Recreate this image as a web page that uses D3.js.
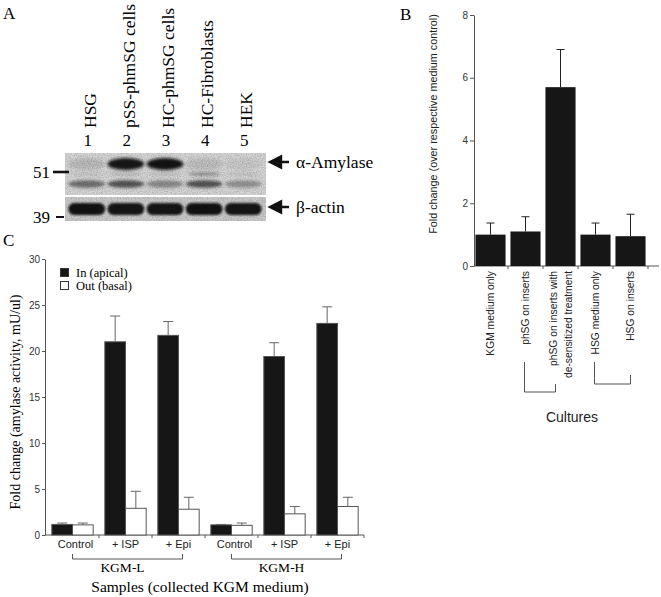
<!DOCTYPE html>
<html>
<head>
<meta charset="UTF-8">
<title>Amylase figure</title>
<script src="https://d3js.org/d3.v7.min.js"></script>
<style>
  body { margin: 0; background: #fff; }
  .serif { font-family: "Liberation Serif", "Times New Roman", serif; }
  .sans { font-family: "Liberation Sans", Arial, sans-serif; }
</style>
</head>
<body>
<div id="fig"></div>
<script>
// ---- panel A : western blot ----
const lanes = ["HSG", "pSS-phmSG cells", "HC-phmSG cells", "HC-Fibroblasts", "HEK"];
const laneNums = ["1", "2", "3", "4", "5"];
const amylaseBand = [0.12, 0.95, 0.97, 0.1, 0.05];   // band intensity, 0..1
const minorBand = [0.08, 0.12, 0.1, 0.35, 0.08];
const lowerBand = [0.55, 0.7, 0.4, 0.7, 0.35];
const actinBand = [0.97, 0.95, 0.95, 0.97, 0.95];
const markers = ["51", "39"];

// ---- panel B ----
const cultures = [["KGM medium only"], ["phSG on inserts"],
                  ["phSG on inserts with", "de-sensitized treatment"],
                  ["HSG medium only"], ["HSG on inserts"]];
const foldB = [1.0, 1.1, 5.7, 1.0, 0.95];
const errB = [0.37, 0.47, 1.2, 0.37, 0.7];
const ticksB = [0, 2, 4, 6, 8];

// ---- panel C ----
const samples = ["Control", "+ ISP", "+ Epi", "Control", "+ ISP", "+ Epi"];
const media = ["KGM-L", "KGM-H"];
const inApical = [1.15, 21.0, 21.7, 1.1, 19.4, 23.0];
const inErr = [0.15, 2.8, 1.5, 0.05, 1.5, 1.8];
const outBasal = [1.1, 2.9, 2.8, 1.05, 2.3, 3.1];
const outErr = [0.2, 1.85, 1.3, 0.25, 0.8, 1.0];
const ticksC = [0, 5, 10, 15, 20, 25, 30];

const W = 661, H = 597;
const svg = d3.select("#fig").append("svg")
    .attr("width", W).attr("height", H)
    .style("background", "#fff");

const defs = svg.append("defs");
defs.append("filter").attr("id", "blur").attr("x", "-30%").attr("y", "-80%")
    .attr("width", "160%").attr("height", "260%")
  .append("feGaussianBlur").attr("stdDeviation", 1.8);
defs.append("filter").attr("id", "blurS").attr("x", "-20%").attr("y", "-50%")
    .attr("width", "140%").attr("height", "200%")
  .append("feGaussianBlur").attr("stdDeviation", 1);
const noise = defs.append("filter").attr("id", "noise");
noise.append("feTurbulence").attr("type", "fractalNoise")
    .attr("baseFrequency", 0.8).attr("numOctaves", 2).attr("seed", 3);
noise.append("feColorMatrix").attr("type", "matrix")
    .attr("values", "0 0 0 0 0  0 0 0 0 0  0 0 0 0 0  0 0 0 0.35 -0.12");

// panel letters
svg.append("text").attr("class", "serif").attr("x", 3).attr("y", 19)
    .attr("font-size", 17).text("A");
svg.append("text").attr("class", "serif").attr("x", 400).attr("y", 20)
    .attr("font-size", 17).text("B");
svg.append("text").attr("class", "serif").attr("x", 3).attr("y", 246)
    .attr("font-size", 17).text("C");

// =================== A ===================
const blot = { x0: 65, x1: 266, top: 153, mid: 195, lowTop: 197, bottom: 221 };
const xLane = d3.scaleBand().domain(lanes).range([66, 264]).padding(0.06);
const gA = svg.append("g");

defs.append("clipPath").attr("id", "clipUp").append("rect")
    .attr("x", blot.x0).attr("y", blot.top)
    .attr("width", blot.x1 - blot.x0).attr("height", blot.mid - blot.top);
defs.append("clipPath").attr("id", "clipLow").append("rect")
    .attr("x", blot.x0).attr("y", blot.lowTop)
    .attr("width", blot.x1 - blot.x0).attr("height", blot.bottom - blot.lowTop);

gA.append("rect").attr("x", blot.x0).attr("y", blot.top)
    .attr("width", blot.x1 - blot.x0).attr("height", blot.mid - blot.top)
    .attr("fill", "#d6d6d6");
gA.append("rect").attr("x", blot.x0).attr("y", blot.lowTop)
    .attr("width", blot.x1 - blot.x0).attr("height", blot.bottom - blot.lowTop)
    .attr("fill", "#cbcbcb");

const up = gA.append("g").attr("clip-path", "url(#clipUp)");
const low = gA.append("g").attr("clip-path", "url(#clipLow)");

up.selectAll(".amy").data(lanes).join("ellipse")
    .attr("cx", d => xLane(d) + xLane.bandwidth() / 2)
    .attr("cy", 164).attr("rx", xLane.bandwidth() / 2).attr("ry", 6)
    .attr("fill", "#0e0e0e").attr("opacity", (d, i) => amylaseBand[i])
    .attr("filter", "url(#blur)");
up.selectAll(".minor").data(lanes).join("ellipse")
    .attr("cx", d => xLane(d) + xLane.bandwidth() / 2)
    .attr("cy", 174).attr("rx", xLane.bandwidth() / 2.3).attr("ry", 2)
    .attr("fill", "#222").attr("opacity", (d, i) => minorBand[i])
    .attr("filter", "url(#blur)");
up.selectAll(".lowb").data(lanes).join("ellipse")
    .attr("cx", d => xLane(d) + xLane.bandwidth() / 2)
    .attr("cy", 184).attr("rx", xLane.bandwidth() / 2).attr("ry", 3.8)
    .attr("fill", "#1a1a1a").attr("opacity", (d, i) => lowerBand[i])
    .attr("filter", "url(#blur)");
up.append("rect").attr("x", blot.x0).attr("y", blot.top)
    .attr("width", blot.x1 - blot.x0).attr("height", blot.mid - blot.top)
    .attr("filter", "url(#noise)");

low.selectAll(".actin").data(lanes).join("rect")
    .attr("x", d => xLane(d)).attr("y", 203)
    .attr("width", xLane.bandwidth()).attr("height", 12).attr("rx", 6)
    .attr("fill", "#080808").attr("opacity", (d, i) => actinBand[i])
    .attr("filter", "url(#blurS)");
low.append("rect").attr("x", blot.x0).attr("y", blot.lowTop)
    .attr("width", blot.x1 - blot.x0).attr("height", blot.bottom - blot.lowTop)
    .attr("filter", "url(#noise)");

// lane labels
gA.selectAll(".laneLab").data(lanes).join("text")
    .attr("class", "serif").attr("font-size", 17.5)
    .attr("transform", d => `translate(${xLane(d) + xLane.bandwidth() / 2 + 3},128) rotate(-90)`)
    .attr("dy", "0.35em").text(d => d);
gA.selectAll(".laneNum").data(laneNums).join("text")
    .attr("class", "serif").attr("font-size", 17).attr("text-anchor", "middle")
    .attr("x", (d, i) => xLane(lanes[i]) + xLane.bandwidth() / 2 + 1)
    .attr("y", 146).text(d => d);

// size markers
const markerY = [172, 217];
gA.selectAll(".mk").data(markers).join("text")
    .attr("class", "serif").attr("font-size", 17).attr("text-anchor", "end")
    .attr("x", 50).attr("y", (d, i) => markerY[i] + 6).text(d => d);
gA.selectAll(".mkl").data(markers).join("line")
    .attr("x1", (d, i) => i ? 56 : 53).attr("x2", (d, i) => i ? 64 : 69)
    .attr("y1", (d, i) => markerY[i]).attr("y2", (d, i) => markerY[i])
    .attr("stroke", "#111").attr("stroke-width", (d, i) => i ? 2 : 2.6);

// right labels
const bandLabels = [{ t: "α-Amylase", y: 162 }, { t: "β-actin", y: 207 }];
gA.selectAll(".arr").data(bandLabels).join("path")
    .attr("d", d => `M270,${d.y} L281,${d.y - 5.5} L281,${d.y + 5.5} Z M280,${d.y} L289,${d.y}`)
    .attr("fill", "#111").attr("stroke", "#111").attr("stroke-width", 2.4);
gA.selectAll(".bl").data(bandLabels).join("text")
    .attr("class", "serif").attr("font-size", 17.5)
    .attr("x", 296).attr("y", d => d.y + 6).text(d => d.t);

// =================== B ===================
const gB = svg.append("g");
const yB = d3.scaleLinear().domain([0, 8]).range([266, 15]);
const xB = d3.scaleBand().domain(d3.range(cultures.length))
    .range([473, 648]).paddingInner(0.14).paddingOuter(0.07);
const axB = gB.append("g").attr("transform", "translate(474,0)")
    .call(d3.axisLeft(yB).tickValues(ticksB).tickSize(4).tickSizeOuter(0).tickPadding(2));
axB.select(".domain").attr("stroke", "#555");
axB.selectAll(".tick line").attr("stroke", "#555");
axB.selectAll(".tick text").attr("class", "sans").attr("font-size", 10).attr("fill", "#333");

gB.append("line").attr("x1", 474).attr("x2", 659).attr("y1", 266).attr("y2", 266)
    .attr("stroke", "#555");
gB.selectAll(".xt").data(d3.range(1, cultures.length + 1)).join("line")
    .attr("x1", d => xB(d - 1) + xB.bandwidth() + xB.step() * 0.07)
    .attr("x2", d => xB(d - 1) + xB.bandwidth() + xB.step() * 0.07)
    .attr("y1", 266).attr("y2", 269).attr("stroke", "#555");

gB.selectAll(".barB").data(foldB).join("rect")
    .attr("x", (d, i) => xB(i)).attr("width", xB.bandwidth())
    .attr("y", d => yB(d)).attr("height", d => yB(0) - yB(d))
    .attr("fill", "#161616");
gB.selectAll(".errB").data(foldB).join("path")
    .attr("d", (d, i) => {
      const cx = xB(i) + xB.bandwidth() / 2, yt = yB(d + errB[i]);
      return `M${cx},${yB(d)} V${yt} M${cx - 4},${yt} H${cx + 4}`;
    })
    .attr("fill", "none").attr("stroke", "#222").attr("stroke-width", 1);

const labB = gB.selectAll(".labB").data(cultures).join("text")
    .attr("class", "sans").attr("font-size", 10.3).attr("text-anchor", "end")
    .attr("fill", "#222")
    .attr("transform", (d, i) => `translate(${xB(i) + xB.bandwidth() / 2},271) rotate(-90)`);
labB.selectAll("tspan").data(d => d.map((t, j) => ({ t, j, n: d.length }))).join("tspan")
    .attr("x", 0)
    .attr("y", d => d.n > 1 ? (d.j - 0.5) * 15 : 0)
    .attr("dy", "0.35em").text(d => d.t);

// brackets under B labels
const cB = i => xB(i) + xB.bandwidth() / 2;
const bracketsB = [[1, 2, 362, 392, 384], [3, 4, 362, 384, 375]];
gB.selectAll(".brB").data(bracketsB).join("path")
    .attr("d", d => {
      const x1 = cB(d[0]) - 1, x2 = d[1] === 2 ? cB(d[1]) - 5 : cB(d[1]);
      return `M${x1},${d[2]} V${d[3]} H${x2} V${d[4]}`;
    })
    .attr("fill", "none").attr("stroke", "#555");

gB.append("text").attr("class", "sans").attr("font-size", 14).attr("fill", "#222")
    .attr("text-anchor", "middle").attr("x", 572).attr("y", 422).text("Cultures");
gB.append("text").attr("class", "sans").attr("font-size", 10.8).attr("fill", "#222")
    .attr("text-anchor", "middle")
    .attr("transform", "translate(437,124) rotate(-90)")
    .text("Fold change (over respective medium control)");

// =================== C ===================
const gC = svg.append("g");
const yC = d3.scaleLinear().domain([0, 30]).range([535, 259]);
const xC = d3.scaleBand().domain(d3.range(samples.length))
    .range([46, 364]).paddingInner(0.22).paddingOuter(0.11);
const xSub = d3.scaleBand().domain(["in", "out"]).range([0, xC.bandwidth()]);

const axC = gC.append("g").attr("transform", "translate(45,0)")
    .call(d3.axisLeft(yC).tickValues(ticksC).tickSize(3).tickSizeOuter(0).tickPadding(2));
axC.select(".domain").attr("stroke", "#555");
axC.selectAll(".tick line").attr("stroke", "#555");
axC.selectAll(".tick text").attr("class", "sans").attr("font-size", 10).attr("fill", "#333");

gC.append("line").attr("x1", 45).attr("x2", 364).attr("y1", 535).attr("y2", 535)
    .attr("stroke", "#555");
gC.selectAll(".xtC").data(d3.range(1, samples.length + 1)).join("line")
    .attr("x1", d => 46 + d * xC.step()).attr("x2", d => 46 + d * xC.step())
    .attr("y1", 535).attr("y2", 538).attr("stroke", "#555");

const series = [
  { key: "in", vals: inApical, errs: inErr, fill: "#161616" },
  { key: "out", vals: outBasal, errs: outErr, fill: "#fff" }
];
series.forEach(s => {
  gC.selectAll(".bar-" + s.key).data(s.vals).join("rect")
      .attr("x", (d, i) => xC(i) + xSub(s.key)).attr("width", xSub.bandwidth())
      .attr("y", d => yC(d)).attr("height", d => yC(0) - yC(d))
      .attr("fill", s.fill).attr("stroke", "#555").attr("stroke-width", 1);
  gC.selectAll(".err-" + s.key).data(s.vals).join("path")
      .attr("d", (d, i) => {
        const cx = xC(i) + xSub(s.key) + xSub.bandwidth() / 2, yt = yC(d + s.errs[i]);
        return `M${cx},${yC(d)} V${yt} M${cx - 5},${yt} H${cx + 5}`;
      })
      .attr("fill", "none").attr("stroke", "#666").attr("stroke-width", 1);
});

gC.selectAll(".labC").data(samples).join("text")
    .attr("class", "sans").attr("font-size", 11).attr("text-anchor", "middle")
    .attr("fill", "#222")
    .attr("x", (d, i) => xC(i) + xC.bandwidth() / 2 + (d === "Control" ? 3 : 0))
    .attr("y", 548).text(d => d);

const cC = i => xC(i) + xC.bandwidth() / 2;
gC.selectAll(".brC").data(media).join("path")
    .attr("d", (d, g) => `M${cC(g * 3)},554 V559 H${cC(g * 3 + 2) + 4} V554`)
    .attr("fill", "none").attr("stroke", "#555");
gC.selectAll(".medC").data(media).join("text")
    .attr("class", "serif").attr("font-size", 13.5).attr("text-anchor", "middle")
    .attr("x", (d, g) => cC(g * 3 + 1) - 3).attr("y", 572).text(d => d);

gC.append("text").attr("class", "serif").attr("font-size", 15.5)
    .attr("text-anchor", "middle").attr("x", 200).attr("y", 592)
    .text("Samples (collected KGM medium)");
gC.append("text").attr("class", "serif").attr("font-size", 14)
    .attr("text-anchor", "middle")
    .attr("transform", "translate(20,402) rotate(-90)")
    .text("Fold change (amylase activity, mU/ul)");

// legend
const legend = [{ t: "In (apical)", fill: "#161616", y: 268 }, { t: "Out (basal)", fill: "#fff", y: 281 }];
gC.selectAll(".lgr").data(legend).join("rect")
    .attr("x", 60.5).attr("y", d => d.y + 0.5).attr("width", 8).attr("height", 8)
    .attr("fill", d => d.fill).attr("stroke", "#333");
gC.selectAll(".lgt").data(legend).join("text")
    .attr("class", "serif").attr("font-size", 12.5)
    .attr("x", 76).attr("y", d => d.y + 8.5).text(d => d.t);
</script>
</body>
</html>
